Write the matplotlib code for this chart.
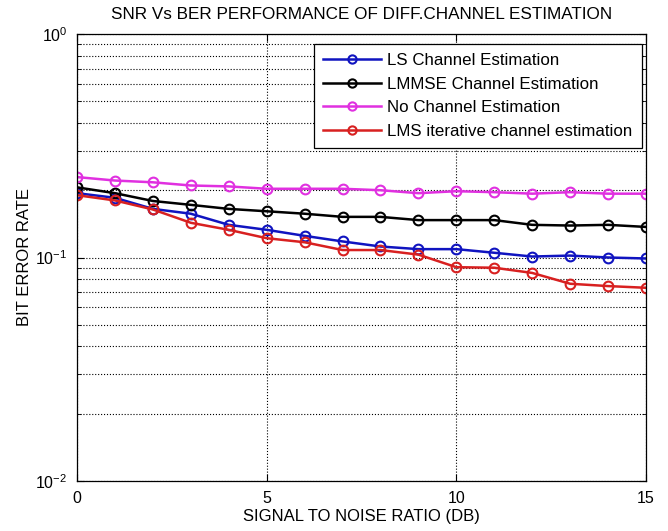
import matplotlib
matplotlib.use("Agg")
import matplotlib.pyplot as plt
import numpy as np

plt.rcParams['font.family'] = ['Liberation Sans', 'DejaVu Sans']
plt.rcParams['mathtext.default'] = 'regular'

snr = list(range(16))
ls_ber = [0.194, 0.185, 0.165, 0.157, 0.140, 0.133, 0.125, 0.118, 0.112, 0.109, 0.109, 0.105, 0.101, 0.102, 0.100, 0.099]
lmmse_ber = [0.206, 0.194, 0.179, 0.172, 0.165, 0.161, 0.157, 0.152, 0.152, 0.147, 0.147, 0.147, 0.140, 0.139, 0.140, 0.137]
none_ber = [0.229, 0.221, 0.217, 0.210, 0.208, 0.203, 0.203, 0.203, 0.200, 0.194, 0.198, 0.196, 0.193, 0.196, 0.193, 0.193]
lms_ber = [0.190, 0.180, 0.164, 0.143, 0.133, 0.122, 0.117, 0.108, 0.108, 0.103, 0.0905, 0.090, 0.0853, 0.0763, 0.0745, 0.0732]

labels = ['LS Channel Estimation', 'LMMSE Channel Estimation',
          'No Channel Estimation', 'LMS iterative channel estimation']
colors = ['#1014c0', '#000000', '#e030e0', '#d82020']
series = [ls_ber, lmmse_ber, none_ber, lms_ber]

fig = plt.figure(figsize=(6.68, 5.31), dpi=100)
ax = fig.add_axes([77/668, 50/531, 569/668, 447/531])

for y, c, lab in zip(series, colors, labels):
    ax.semilogy(snr, y, '-o', color=c, lw=1.8, ms=7, mfc='none', mew=1.5, label=lab)

ax.set_xlim(0, 15)
ax.set_ylim(1e-2, 1e0)
ax.set_xticks([0, 5, 10, 15])
ax.grid(True, which='major', linestyle=':', color='k', linewidth=0.8)
ax.grid(True, which='minor', axis='y', linestyle=':', color='k', linewidth=0.8)
ax.tick_params(which='both', direction='in', top=True, right=True, labelsize=11.5, pad=7)
ax.tick_params(which='major', length=5)
ax.tick_params(which='minor', length=3)
for s in ax.spines.values():
    s.set_linewidth(0.9)

ax.set_title('SNR Vs BER PERFORMANCE OF DIFF.CHANNEL ESTIMATION', fontsize=12.3, pad=11)
ax.set_xlabel('SIGNAL TO NOISE RATIO (DB)', fontsize=12, labelpad=2)
ax.set_ylabel('BIT ERROR RATE', fontsize=12, labelpad=2)

leg = ax.legend(loc='upper right', bbox_to_anchor=(0.993, 0.978), borderaxespad=0,
                fontsize=12.2, fancybox=False, framealpha=1, edgecolor='k',
                handlelength=3.4, handletextpad=0.4, labelspacing=0.5,
                borderpad=0.55, markerscale=0.85)
leg.get_frame().set_linewidth(0.9)

fig.savefig('out.png', dpi=100)
